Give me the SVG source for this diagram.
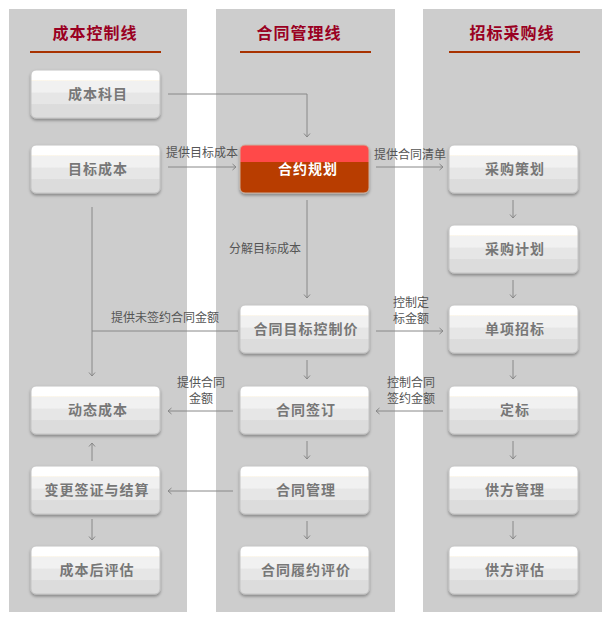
<svg xmlns="http://www.w3.org/2000/svg" width="609" height="621" viewBox="0 0 609 621">
<defs>
<linearGradient id="ng" x1="0" y1="0" x2="0" y2="1">
<stop offset="0" stop-color="#ffffff"/>
<stop offset="0.2" stop-color="#ffffff"/>
<stop offset="0.22" stop-color="#fbf6ea"/>
<stop offset="0.24" stop-color="#f1f1f1"/>
<stop offset="0.46" stop-color="#f1f1f1"/>
<stop offset="0.48" stop-color="#e6e6e6"/>
<stop offset="0.7" stop-color="#e6e6e6"/>
<stop offset="0.72" stop-color="#dcdcdc"/>
<stop offset="1" stop-color="#dcdcdc"/>
</linearGradient>
<linearGradient id="rg" x1="0" y1="0" x2="0" y2="1">
<stop offset="0" stop-color="#ff4a4a"/>
<stop offset="0.36" stop-color="#ff4a4a"/>
<stop offset="0.36" stop-color="#b83c00"/>
<stop offset="1" stop-color="#b83c00"/>
</linearGradient>
<filter id="sh" x="-10%" y="-10%" width="120%" height="140%">
<feDropShadow dx="0" dy="2" stdDeviation="1.8" flood-color="#000" flood-opacity="0.35"/>
</filter>
<marker id="ar" markerWidth="8" markerHeight="8" refX="5" refY="4" orient="auto" markerUnits="userSpaceOnUse">
<path d="M1.5,1 L5,4 L1.5,7" fill="none" stroke="#888" stroke-width="1"/>
</marker>
<style>
.col{fill:#cdcdcd}
.hd{font-family:"Noto Sans CJK SC","Noto Sans",sans-serif;font-size:16px;font-weight:bold;fill:#9a0022;text-anchor:middle;letter-spacing:1px}
.ul{stroke:#a83200;stroke-width:2}
.nb{fill:url(#ng);stroke:#c4c4c4;stroke-width:1;filter:url(#sh)}
.nr{fill:url(#rg);stroke:#c9b0a0;stroke-width:1;filter:url(#sh)}
.nt{font-family:"Noto Sans CJK SC","Noto Sans",sans-serif;font-size:14px;font-weight:bold;fill:#777;text-anchor:middle;letter-spacing:1px}
.nw{fill:#fff}
.lb{font-family:"Noto Sans CJK SC","Noto Sans",sans-serif;font-size:12px;fill:#555;text-anchor:middle}
.cn{fill:none;stroke:#888;stroke-width:1}
</style>
</defs>
<rect width="609" height="621" fill="#fff"/>
<g id="columns">
<rect class="col" x="9" y="9" width="178" height="603"/>
<rect class="col" x="216" y="9" width="179" height="603"/>
<rect class="col" x="423" y="9" width="179" height="603"/>
<text class="hd" x="95" y="39">成本控制线</text>
<text class="hd" x="299" y="39">合同管理线</text>
<text class="hd" x="512" y="39">招标采购线</text>
<line class="ul" x1="30" y1="52" x2="161" y2="52"/>
<line class="ul" x1="240" y1="52" x2="371" y2="52"/>
<line class="ul" x1="449" y1="52" x2="580" y2="52"/>
</g>
<g id="connectors">
<path class="cn" d="M168,94 H307 V137" marker-end="url(#ar)"/>
<path class="cn" d="M168,167 H236" marker-end="url(#ar)"/>
<path class="cn" d="M376,167 H443" marker-end="url(#ar)"/>
<path class="cn" d="M513,200 V218" marker-end="url(#ar)"/>
<path class="cn" d="M513,280 V298" marker-end="url(#ar)"/>
<path class="cn" d="M513,360 V379" marker-end="url(#ar)"/>
<path class="cn" d="M513,441 V459" marker-end="url(#ar)"/>
<path class="cn" d="M513,521 V539" marker-end="url(#ar)"/>
<path class="cn" d="M307,200 V298" marker-end="url(#ar)"/>
<path class="cn" d="M307,360 V379" marker-end="url(#ar)"/>
<path class="cn" d="M307,441 V459" marker-end="url(#ar)"/>
<path class="cn" d="M307,521 V539" marker-end="url(#ar)"/>
<path class="cn" d="M92,207 V376" marker-end="url(#ar)"/>
<path class="cn" d="M238,331 H92"/>
<path class="cn" d="M376,331 H443" marker-end="url(#ar)"/>
<path class="cn" d="M443,411 H376" marker-end="url(#ar)"/>
<path class="cn" d="M233,411 H168" marker-end="url(#ar)"/>
<path class="cn" d="M233,491 H168" marker-end="url(#ar)"/>
<path class="cn" d="M92,461 V443" marker-end="url(#ar)"/>
<path class="cn" d="M92,519 V540" marker-end="url(#ar)"/>
<text class="lb" x="202" y="157">提供目标成本</text>
<text class="lb" x="410" y="159">提供合同清单</text>
<text class="lb" x="265" y="253">分解目标成本</text>
<text class="lb" x="165" y="322">提供未签约合同金额</text>
<text class="lb" x="411" y="307">控制定</text>
<text class="lb" x="411" y="323">标金额</text>
<text class="lb" x="411" y="387">控制合同</text>
<text class="lb" x="411" y="403">签约金额</text>
<text class="lb" x="201" y="387">提供合同</text>
<text class="lb" x="201" y="403">金额</text>
</g>
<g id="n-cbkm"><rect class="nb" x="31" y="70" width="129" height="48" rx="5"/><text class="nt" x="98" y="99">成本科目</text></g>
<g id="n-mbcb"><rect class="nb" x="31" y="145" width="129" height="48" rx="5"/><text class="nt" x="98" y="174">目标成本</text></g>
<g id="n-dtcb"><rect class="nb" x="31" y="386" width="129" height="48" rx="5"/><text class="nt" x="98" y="415">动态成本</text></g>
<g id="n-bgqz"><rect class="nb" x="31" y="466" width="129" height="48" rx="5"/><text class="nt" x="97" y="495">变更签证与结算</text></g>
<g id="n-cbhpg"><rect class="nb" x="31" y="546" width="129" height="48" rx="5"/><text class="nt" x="97" y="575">成本后评估</text></g>
<g id="n-hygh"><rect class="nr" x="240" y="145" width="129" height="48" rx="5"/><text class="nt nw" x="308" y="174">合约规划</text></g>
<g id="n-htmb"><rect class="nb" x="240" y="305" width="129" height="48" rx="5"/><text class="nt" x="306" y="334">合同目标控制价</text></g>
<g id="n-htqd"><rect class="nb" x="240" y="386" width="129" height="48" rx="5"/><text class="nt" x="306" y="415">合同签订</text></g>
<g id="n-htgl"><rect class="nb" x="240" y="466" width="129" height="48" rx="5"/><text class="nt" x="306" y="495">合同管理</text></g>
<g id="n-htly"><rect class="nb" x="240" y="546" width="129" height="48" rx="5"/><text class="nt" x="306" y="575">合同履约评价</text></g>
<g id="n-cgch"><rect class="nb" x="449" y="145" width="129" height="48" rx="5"/><text class="nt" x="515" y="174">采购策划</text></g>
<g id="n-cgjh"><rect class="nb" x="449" y="225" width="129" height="48" rx="5"/><text class="nt" x="515" y="254">采购计划</text></g>
<g id="n-dxzb"><rect class="nb" x="449" y="305" width="129" height="48" rx="5"/><text class="nt" x="515" y="334">单项招标</text></g>
<g id="n-db"><rect class="nb" x="449" y="386" width="129" height="48" rx="5"/><text class="nt" x="515" y="415">定标</text></g>
<g id="n-gfgl"><rect class="nb" x="449" y="466" width="129" height="48" rx="5"/><text class="nt" x="515" y="495">供方管理</text></g>
<g id="n-gfpg"><rect class="nb" x="449" y="546" width="129" height="48" rx="5"/><text class="nt" x="515" y="575">供方评估</text></g>
</svg>
